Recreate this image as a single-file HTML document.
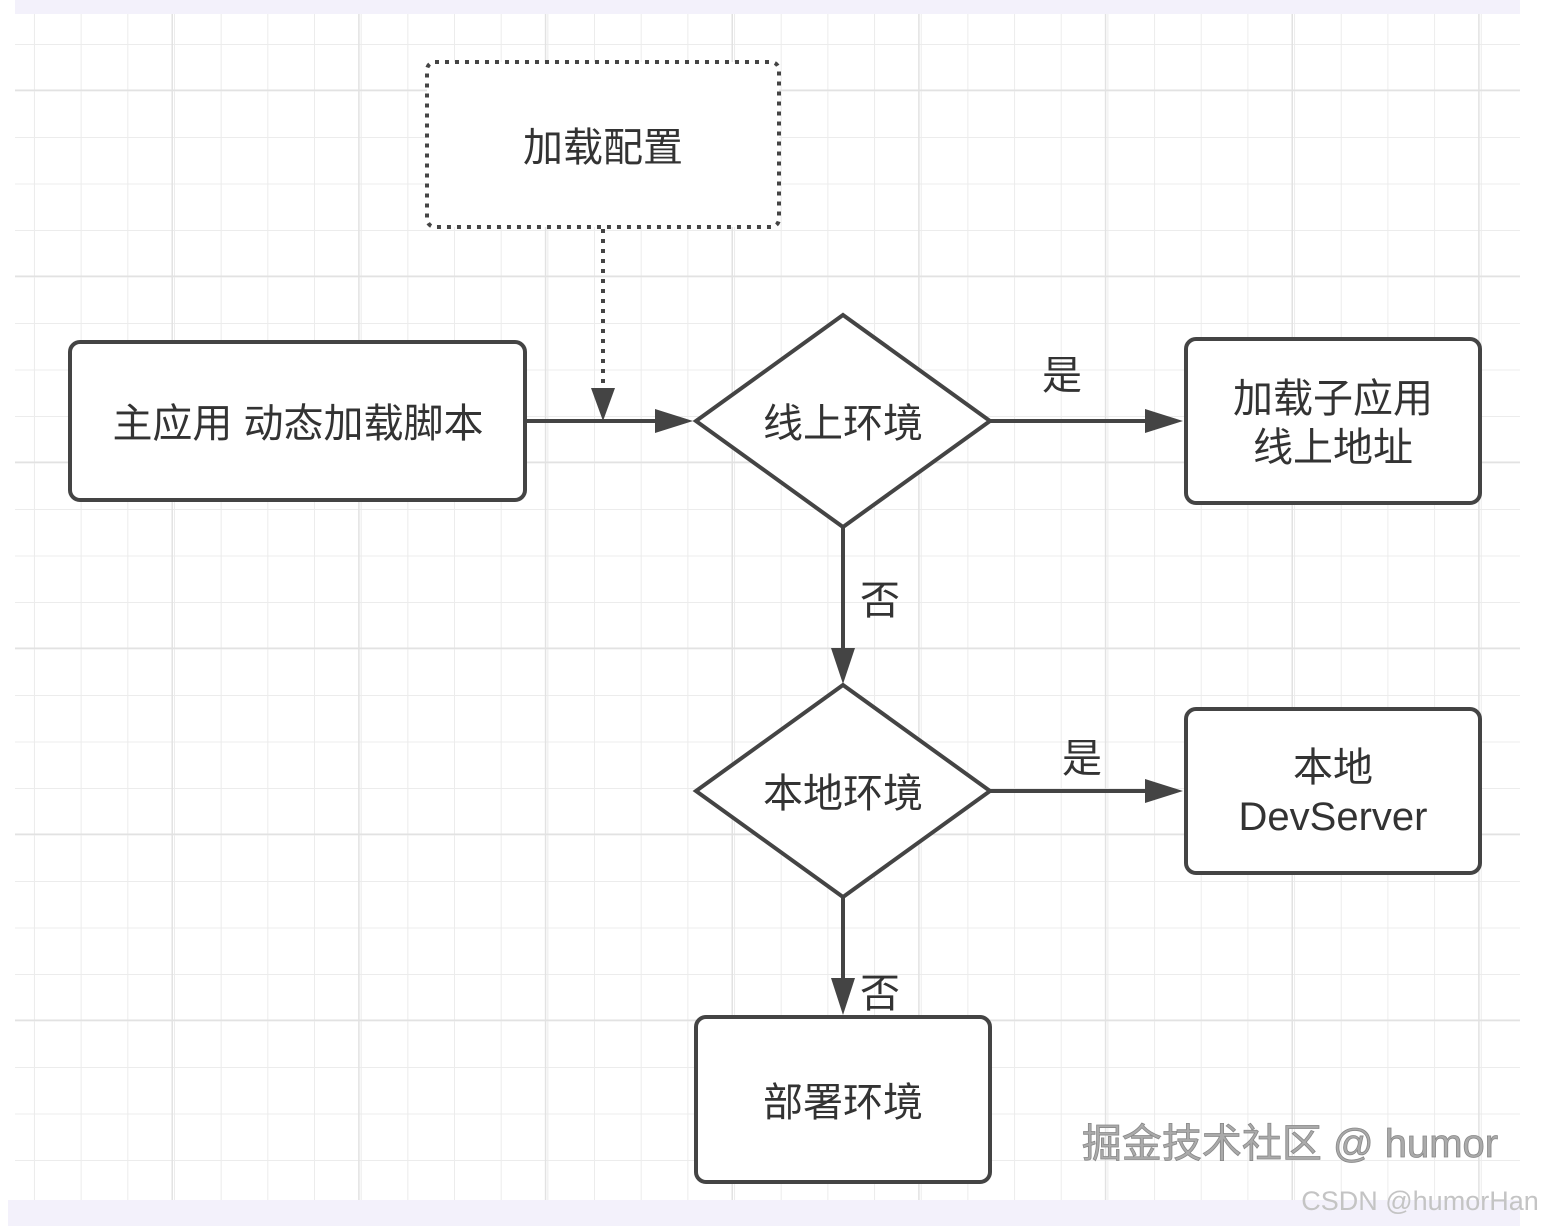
<!DOCTYPE html>
<html><head><meta charset="utf-8"><style>
html,body{margin:0;padding:0;background:#fff;}
svg{display:block;}
text{font-family:"Liberation Sans","Noto Sans CJK SC",sans-serif;fill:#333;}
</style></head><body>
<svg width="1552" height="1228" viewBox="0 0 1552 1228" xmlns="http://www.w3.org/2000/svg">
<defs>
<pattern id="minor" x="-11.7" y="-1.5" width="46.67" height="46.5" patternUnits="userSpaceOnUse">
<path d="M46.67 0V46.5M0 46.5H46.67" stroke="#ececec" stroke-width="2" fill="none"/>
</pattern>
<pattern id="major" x="-13.7" y="-95" width="186.67" height="186" patternUnits="userSpaceOnUse">
<path d="M186.67 0V186M0 186H186.67" stroke="#e2e2e2" stroke-width="3" fill="none"/>
</pattern>
</defs>
<rect x="15" y="14" width="1505" height="1186" fill="url(#minor)"/>
<rect x="15" y="14" width="1505" height="1186" fill="url(#major)"/>
<rect x="15" y="0" width="1505" height="14" fill="#f3f1fb"/>
<rect x="8" y="1200" width="1512" height="26" fill="#f3f1fb"/>

<g stroke="#444" stroke-width="4" fill="#fff">
<rect x="427" y="62" width="352" height="165" rx="8" stroke-dasharray="4 6" stroke-width="4"/>
<rect x="70" y="342" width="455" height="158" rx="10"/>
<polygon points="843,315 990,421 843,527 696,421"/>
<rect x="1186" y="339" width="294" height="164" rx="10"/>
<polygon points="843,685 990,791 843,897 696,791"/>
<rect x="1186" y="709" width="294" height="164" rx="10"/>
<rect x="696" y="1017" width="294" height="165" rx="10"/>
</g>
<g stroke="#444" stroke-width="4" fill="none">
<line x1="603" y1="229" x2="603" y2="390" stroke-dasharray="4 6"/>
<line x1="525" y1="421" x2="660" y2="421"/>
<line x1="990" y1="421" x2="1148" y2="421"/>
<line x1="843" y1="527" x2="843" y2="650"/>
<line x1="990" y1="791" x2="1148" y2="791"/>
<line x1="843" y1="897" x2="843" y2="980"/>
</g>
<g fill="#444">
<polygon points="591,388 615,388 603,421"/>
<polygon points="655,409 655,433 693,421"/>
<polygon points="1145,409 1145,433 1183,421"/>
<polygon points="831,648 855,648 843,684"/>
<polygon points="1145,779 1145,803 1183,791"/>
<polygon points="831,978 855,978 843,1015"/>
</g>
<g font-size="40" text-anchor="middle">
<text x="603" y="161">加载配置</text>
<text x="298" y="437">主应用 动态加载脚本</text>
<text x="843" y="437">线上环境</text>
<text x="1333" y="412">加载子应用</text>
<text x="1333" y="461">线上地址</text>
<text x="843" y="807">本地环境</text>
<text x="1333" y="781">本地</text>
<text x="1333" y="830">DevServer</text>
<text x="843" y="1116">部署环境</text>
<text x="1062" y="389">是</text>
<text x="880" y="614">否</text>
<text x="1082" y="772">是</text>
<text x="880" y="1007">否</text>
</g>
<text x="1290" y="1157" font-size="40" text-anchor="middle" style="fill:#aaa;stroke:#888;stroke-width:0.8">掘金技术社区 @ humor</text>
<text x="1420" y="1210" font-size="27" text-anchor="middle" style="fill:#c4c4c4">CSDN @humorHan</text>
</svg>
</body></html>
